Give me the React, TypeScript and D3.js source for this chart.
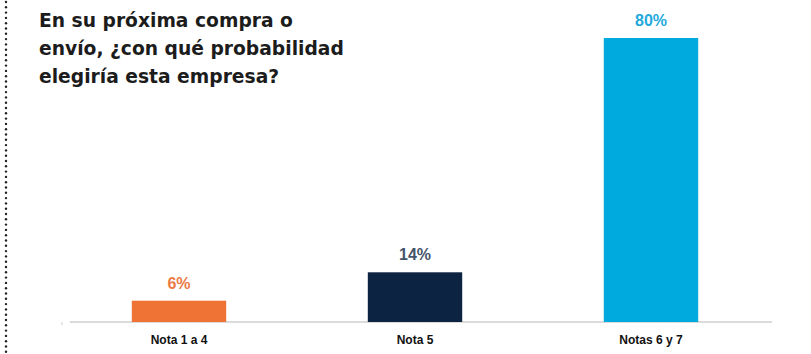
import React from "react";
import * as d3 from "d3";

const categories = ["Nota 1 a 4", "Nota 5", "Notas 6 y 7"];
const values = [6, 14, 80];
const valueLabels = ["6%", "14%", "80%"];
const barColors = ["#ef7334", "#0c2341", "#00aadf"];
const labelColors = ["#ec7a45", "#44546a", "#1fa9dc"];
const titleLines = [
  "En su próxima compra o",
  "envío, ¿con qué probabilidad",
  "elegiría esta empresa?",
];

const W = 811;
const H = 354;

export default function App() {
  const x = d3.scaleBand<string>().domain(categories).range([61, 769]).paddingInner(0.6).paddingOuter(0.3);
  const y = d3.scaleLinear().domain([0, 80]).range([322, 38]);
  const dots = d3.range(2, H, 5.3);

  return (
    <svg width={W} height={H} style={{ position: "absolute", left: 0, top: 0, background: "#fff" }}>
      {dots.map((d, i) => (
        <circle key={i} cx={6} cy={d} r={1.2} fill="#222" />
      ))}
      <g fontFamily="'DejaVu Sans', sans-serif" fontWeight={700} fontSize={18.7} fill="#1c1c1c">
        {titleLines.map((t, i) => (
          <text key={i} x={39} y={27 + i * 28}>{t}</text>
        ))}
      </g>
      <line x1={70} x2={772} y1={y(0)} y2={y(0)} stroke="#cfcfcf" strokeWidth={1.5} />
      <line x1={62} x2={62} y1={y(0)} y2={y(0) + 3} stroke="#cfcfcf" strokeWidth={1} />
      {categories.map((c, i) => (
        <g key={c}>
          <rect x={x(c)} y={y(values[i])} width={x.bandwidth()} height={y(0) - y(values[i])} fill={barColors[i]} />
          <text
            x={(x(c) as number) + x.bandwidth() / 2}
            y={y(values[i]) - 12}
            textAnchor="middle"
            fontFamily="'Liberation Sans Narrow', 'Liberation Sans', Arial, sans-serif"
            fontWeight={700}
            fontSize={16}
            fill={labelColors[i]}
          >
            {valueLabels[i]}
          </text>
          <text
            x={(x(c) as number) + x.bandwidth() / 2}
            y={344}
            textAnchor="middle"
            fontFamily="'Liberation Sans Narrow', 'Liberation Sans', Arial, sans-serif"
            fontWeight={700}
            fontSize={12}
            fill="#111"
          >
            {c}
          </text>
        </g>
      ))}
    </svg>
  );
}
